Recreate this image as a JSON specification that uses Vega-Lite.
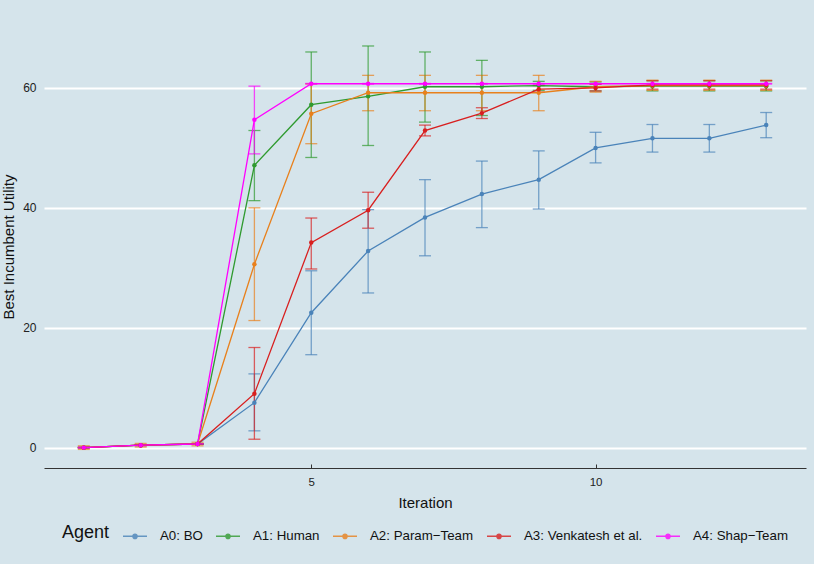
{
  "$schema": "https://vega.github.io/schema/vega-lite/v6.json",
  "width": 762,
  "height": 443,
  "autosize": {"type": "none"},
  "padding": {"left": 44, "top": 25, "right": 8, "bottom": 96},
  "background": "#d5e4eb",
  "data": {
    "values": [
      {"agent": "A0: BO", "iter": 1, "mean": 0.0, "lo": -0.05, "hi": 0.05},
      {"agent": "A0: BO", "iter": 2, "mean": 0.4, "lo": 0.35, "hi": 0.45},
      {"agent": "A0: BO", "iter": 3, "mean": 0.6, "lo": 0.55, "hi": 0.65},
      {"agent": "A0: BO", "iter": 4, "mean": 7.5, "lo": 2.8, "hi": 12.3},
      {"agent": "A0: BO", "iter": 5, "mean": 22.5, "lo": 15.5, "hi": 29.5},
      {"agent": "A0: BO", "iter": 6, "mean": 32.8, "lo": 25.8, "hi": 39.7},
      {"agent": "A0: BO", "iter": 7, "mean": 38.4, "lo": 32.0, "hi": 44.7},
      {"agent": "A0: BO", "iter": 8, "mean": 42.3, "lo": 36.7, "hi": 47.8},
      {"agent": "A0: BO", "iter": 9, "mean": 44.7, "lo": 39.8, "hi": 49.5},
      {"agent": "A0: BO", "iter": 10, "mean": 50.0, "lo": 47.5, "hi": 52.6},
      {"agent": "A0: BO", "iter": 11, "mean": 51.6, "lo": 49.3, "hi": 53.9},
      {"agent": "A0: BO", "iter": 12, "mean": 51.6, "lo": 49.3, "hi": 53.9},
      {"agent": "A0: BO", "iter": 13, "mean": 53.8, "lo": 51.7, "hi": 55.9},

      {"agent": "A1: Human", "iter": 1, "mean": 0.0, "lo": -0.05, "hi": 0.05},
      {"agent": "A1: Human", "iter": 2, "mean": 0.4, "lo": 0.35, "hi": 0.45},
      {"agent": "A1: Human", "iter": 3, "mean": 0.6, "lo": 0.55, "hi": 0.65},
      {"agent": "A1: Human", "iter": 4, "mean": 47.1, "lo": 41.2, "hi": 52.9},
      {"agent": "A1: Human", "iter": 5, "mean": 57.2, "lo": 48.4, "hi": 66.0},
      {"agent": "A1: Human", "iter": 6, "mean": 58.6, "lo": 50.4, "hi": 67.0},
      {"agent": "A1: Human", "iter": 7, "mean": 60.2, "lo": 54.3, "hi": 66.0},
      {"agent": "A1: Human", "iter": 8, "mean": 60.2, "lo": 55.4, "hi": 64.6},
      {"agent": "A1: Human", "iter": 9, "mean": 60.4, "lo": 59.6, "hi": 61.1},
      {"agent": "A1: Human", "iter": 10, "mean": 60.2, "lo": 59.5, "hi": 61.0},
      {"agent": "A1: Human", "iter": 11, "mean": 60.3, "lo": 59.5, "hi": 61.2},
      {"agent": "A1: Human", "iter": 12, "mean": 60.3, "lo": 59.5, "hi": 61.2},
      {"agent": "A1: Human", "iter": 13, "mean": 60.3, "lo": 59.5, "hi": 61.2},

      {"agent": "A2: Param−Team", "iter": 1, "mean": 0.0, "lo": -0.3, "hi": 0.3},
      {"agent": "A2: Param−Team", "iter": 2, "mean": 0.4, "lo": 0.1, "hi": 0.7},
      {"agent": "A2: Param−Team", "iter": 3, "mean": 0.6, "lo": 0.3, "hi": 0.9},
      {"agent": "A2: Param−Team", "iter": 4, "mean": 30.6, "lo": 21.2, "hi": 40.0},
      {"agent": "A2: Param−Team", "iter": 5, "mean": 55.7, "lo": 50.7, "hi": 60.7},
      {"agent": "A2: Param−Team", "iter": 6, "mean": 59.2, "lo": 56.2, "hi": 62.1},
      {"agent": "A2: Param−Team", "iter": 7, "mean": 59.2, "lo": 56.2, "hi": 62.1},
      {"agent": "A2: Param−Team", "iter": 8, "mean": 59.2, "lo": 56.2, "hi": 62.1},
      {"agent": "A2: Param−Team", "iter": 9, "mean": 59.2, "lo": 56.2, "hi": 62.1},
      {"agent": "A2: Param−Team", "iter": 10, "mean": 60.2, "lo": 59.3, "hi": 61.1},
      {"agent": "A2: Param−Team", "iter": 11, "mean": 60.4, "lo": 59.6, "hi": 61.3},
      {"agent": "A2: Param−Team", "iter": 12, "mean": 60.4, "lo": 59.6, "hi": 61.3},
      {"agent": "A2: Param−Team", "iter": 13, "mean": 60.4, "lo": 59.6, "hi": 61.3},

      {"agent": "A3: Venkatesh et al.", "iter": 1, "mean": 0.0, "lo": -0.05, "hi": 0.05},
      {"agent": "A3: Venkatesh et al.", "iter": 2, "mean": 0.4, "lo": 0.35, "hi": 0.45},
      {"agent": "A3: Venkatesh et al.", "iter": 3, "mean": 0.6, "lo": 0.55, "hi": 0.65},
      {"agent": "A3: Venkatesh et al.", "iter": 4, "mean": 9.0, "lo": 1.4, "hi": 16.7},
      {"agent": "A3: Venkatesh et al.", "iter": 5, "mean": 34.2, "lo": 29.8, "hi": 38.3},
      {"agent": "A3: Venkatesh et al.", "iter": 6, "mean": 39.6, "lo": 36.6, "hi": 42.6},
      {"agent": "A3: Venkatesh et al.", "iter": 7, "mean": 52.9, "lo": 52.0, "hi": 53.8},
      {"agent": "A3: Venkatesh et al.", "iter": 8, "mean": 55.8, "lo": 54.9, "hi": 56.7},
      {"agent": "A3: Venkatesh et al.", "iter": 9, "mean": 59.8, "lo": 59.3, "hi": 60.4},
      {"agent": "A3: Venkatesh et al.", "iter": 10, "mean": 60.0, "lo": 59.5, "hi": 60.6},
      {"agent": "A3: Venkatesh et al.", "iter": 11, "mean": 60.5, "lo": 59.8, "hi": 61.2},
      {"agent": "A3: Venkatesh et al.", "iter": 12, "mean": 60.5, "lo": 59.8, "hi": 61.2},
      {"agent": "A3: Venkatesh et al.", "iter": 13, "mean": 60.5, "lo": 59.8, "hi": 61.2},

      {"agent": "A4: Shap−Team", "iter": 1, "mean": 0.0, "lo": -0.05, "hi": 0.05},
      {"agent": "A4: Shap−Team", "iter": 2, "mean": 0.4, "lo": 0.35, "hi": 0.45},
      {"agent": "A4: Shap−Team", "iter": 3, "mean": 0.6, "lo": 0.55, "hi": 0.65},
      {"agent": "A4: Shap−Team", "iter": 4, "mean": 54.7, "lo": 49.0, "hi": 60.3},
      {"agent": "A4: Shap−Team", "iter": 5, "mean": 60.7, "lo": 60.65, "hi": 60.75},
      {"agent": "A4: Shap−Team", "iter": 6, "mean": 60.7, "lo": 60.65, "hi": 60.75},
      {"agent": "A4: Shap−Team", "iter": 7, "mean": 60.7, "lo": 60.65, "hi": 60.75},
      {"agent": "A4: Shap−Team", "iter": 8, "mean": 60.7, "lo": 60.65, "hi": 60.75},
      {"agent": "A4: Shap−Team", "iter": 9, "mean": 60.7, "lo": 60.65, "hi": 60.75},
      {"agent": "A4: Shap−Team", "iter": 10, "mean": 60.7, "lo": 60.65, "hi": 60.75},
      {"agent": "A4: Shap−Team", "iter": 11, "mean": 60.7, "lo": 60.65, "hi": 60.75},
      {"agent": "A4: Shap−Team", "iter": 12, "mean": 60.7, "lo": 60.65, "hi": 60.75},
      {"agent": "A4: Shap−Team", "iter": 13, "mean": 60.7, "lo": 60.65, "hi": 60.75}
    ]
  },
  "encoding": {
    "x": {
      "field": "iter",
      "type": "quantitative",
      "title": "Iteration",
      "scale": {"domain": [0.3, 13.7], "nice": false, "zero": false},
      "axis": {"values": [5, 10], "grid": false}
    },
    "color": {
      "field": "agent",
      "type": "nominal",
      "title": "Agent",
      "scale": {
        "domain": ["A0: BO", "A1: Human", "A2: Param−Team", "A3: Venkatesh et al.", "A4: Shap−Team"],
        "range": ["#4a83b9", "#2f9a2f", "#e8801c", "#d81f1f", "#ff00ff"]
      },
      "legend": {
        "orient": "none",
        "direction": "horizontal",
        "legendX": 18,
        "legendY": 498,
        "titleOrient": "left",
        "titleFontSize": 18,
        "titleFontWeight": "normal",
        "titleColor": "#111",
        "titleBaseline": "middle",
        "titlePadding": 12,
        "labelFontSize": 13.3,
        "labelColor": "#111",
        "labelOffset": 12,
        "columnPadding": 10,
        "symbolType": "M-1,0L1,0M-0.18,0a0.18,0.18 0 1,0 0.36,0a0.18,0.18 0 1,0 -0.36,0",
        "symbolSize": 576,
        "symbolStrokeWidth": 1.5,
        "symbolOpacity": 0.8
      }
    }
  },
  "layer": [
    {
      "mark": {"type": "errorbar", "ticks": {"size": 12, "opacity": 0.7}, "rule": {"opacity": 0.7}, "thickness": 1.3},
      "encoding": {
        "y": {"field": "lo", "type": "quantitative", "title": "Best Incumbent Utility",
              "scale": {"domain": [-3.4, 70.5], "nice": false, "zero": false},
              "axis": {"values": [0, 20, 40, 60]}},
        "y2": {"field": "hi"}
      }
    },
    {
      "mark": {"type": "line", "strokeWidth": 1.3},
      "encoding": {
        "y": {"field": "mean", "type": "quantitative"}
      }
    },
    {
      "mark": {"type": "circle", "size": 20, "opacity": 1},
      "encoding": {
        "y": {"field": "mean", "type": "quantitative"}
      }
    }
  ],
  "config": {
    "font": "Liberation Sans",
    "view": {"stroke": null},
    "axisY": {
      "domain": false,
      "ticks": false,
      "grid": true,
      "gridColor": "#ffffff",
      "gridWidth": 1.8,
      "labelFontSize": 12,
      "labelColor": "#222",
      "labelPadding": 8,
      "titleFontSize": 15,
      "titleFontWeight": "normal",
      "titleColor": "#111",
      "titlePadding": 6
    },
    "axisX": {
      "domain": true,
      "domainColor": "#333",
      "domainWidth": 1,
      "ticks": true,
      "tickColor": "#333",
      "tickSize": -4,
      "labelFontSize": 11.5,
      "labelColor": "#222",
      "labelPadding": 12,
      "titleFontSize": 15,
      "titleFontWeight": "normal",
      "titleColor": "#111",
      "titlePadding": 8
    }
  }
}
